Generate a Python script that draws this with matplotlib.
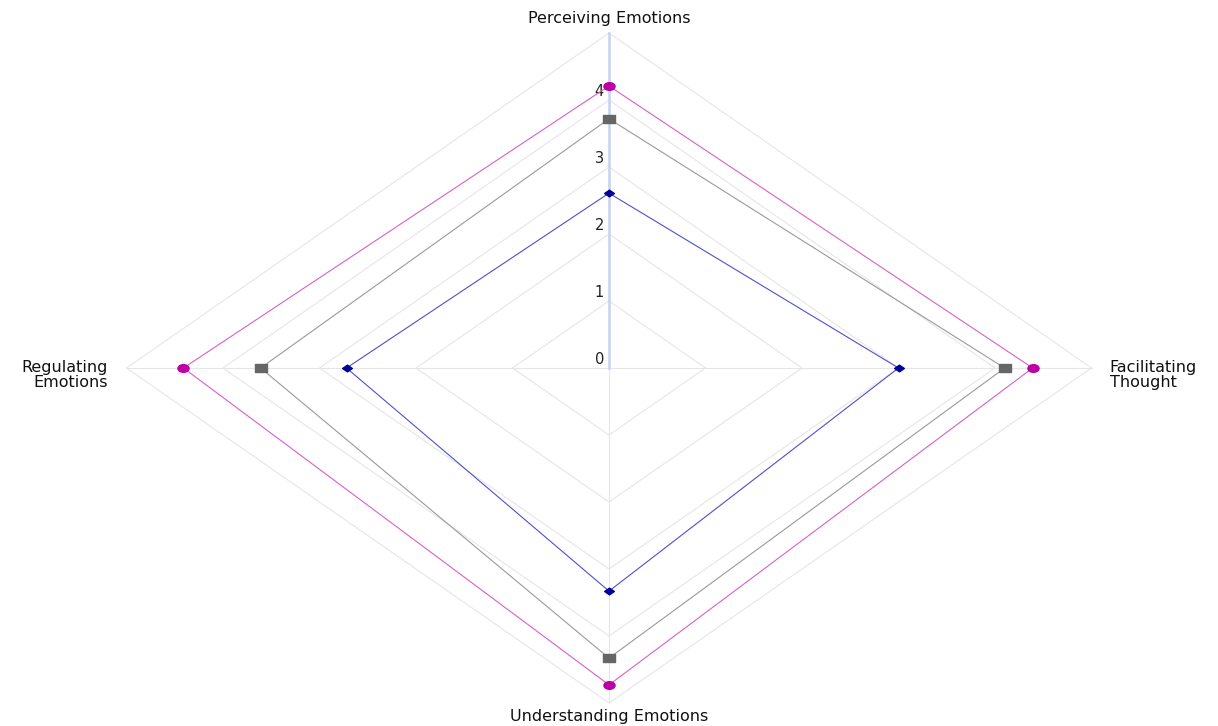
import matplotlib
matplotlib.use("Agg")
import matplotlib.pyplot as plt
import numpy as np
from matplotlib.path import Path
from matplotlib.transforms import Affine2D

# radar axes, clockwise from top
axes_names = ["Perceiving Emotions", "Facilitating\nThought",
              "Understanding Emotions", "Regulating\nEmotions"]
levels = [0, 1, 2, 3, 4, 5]
tick_labels = ["0", "1", "2", "3", "4"]

pink_vals = [4.21, 4.39, 4.73, 4.41]
gray_vals = [3.72, 4.10, 4.33, 3.61]
blue_vals = [2.61, 3.00, 3.33, 2.72]

# direction of each spoke (x, y)
dirs = np.array([[0, 1], [1, 0], [0, -1], [-1, 0]], dtype=float)

# chart in the picture is stretched sideways, so markers are too
def stretched(path, sx=1.45):
    return path.transformed(Affine2D().scale(sx, 1.0))

circ = stretched(Path.unit_circle())
sq = stretched(Path.unit_rectangle().transformed(Affine2D().translate(-0.5, -0.5)))
diam = stretched(Path.unit_regular_polygon(4))

W, H = 1218, 726
fig = plt.figure(figsize=(W / 100, H / 100), dpi=100)
ax = fig.add_axes([0, 0, 1, 1])
cx, cy = 609, 358   # centre in pixels from bottom-left
ux, uy = 96.5, 67.0  # pixels per unit
ax.set_xlim(-cx / ux, (W - cx) / ux)
ax.set_ylim(-cy / uy, (H - cy) / uy)
ax.axis("off")

grid_c = "#e6e6e6"
for lv in levels[1:]:
    pts = np.vstack([dirs * lv, dirs[:1] * lv])
    ax.plot(pts[:, 0], pts[:, 1], color=grid_c, lw=0.8, zorder=1)
for i, d in enumerate(dirs):
    if i == 0:
        continue
    ax.plot([0, d[0] * 5], [0, d[1] * 5], color=grid_c, lw=0.8, zorder=1)
ax.plot([0, 0], [0, 5], color="#c5d3ef", lw=1.8, zorder=2)

for lv, lab in zip(levels, tick_labels):
    ax.annotate(lab, (0, lv), xytext=(-5, 1), textcoords="offset pixels",
                ha="right", va="bottom", fontsize=10.5, color="#222222")

series = [
    (blue_vals, "#5050cc", "#000099", diam, 7),
    (gray_vals, "#9a9a9a", "#666666", sq, 8),
    (pink_vals, "#d660cc", "#bb00a6", circ, 8),
]
for vals, lc, mc, mk, ms in series:
    v = np.array(vals)
    pts = dirs * v[:, None]
    loop = np.vstack([pts, pts[:1]])
    ax.plot(loop[:, 0], loop[:, 1], color=lc, lw=0.8, zorder=3)
    ax.plot(pts[:, 0], pts[:, 1], ls="none", marker=mk, ms=ms,
            color=mc, mec=mc, zorder=4)

lab_kw = dict(fontsize=11.5, color="#111111", linespacing=0.95)
ax.annotate(axes_names[0], (0, 5), xytext=(0, 7), textcoords="offset pixels",
            ha="center", va="bottom", **lab_kw)
ax.annotate(axes_names[1], (5, 0), xytext=(18, -7), textcoords="offset pixels",
            ha="left", va="center", multialignment="left", **lab_kw)
ax.annotate(axes_names[2], (0, -5), xytext=(0, -6), textcoords="offset pixels",
            ha="center", va="top", **lab_kw)
ax.annotate(axes_names[3], (-5, 0), xytext=(-19, -7), textcoords="offset pixels",
            ha="right", va="center", multialignment="right", **lab_kw)

fig.savefig("out.png", dpi=100, facecolor="white")
